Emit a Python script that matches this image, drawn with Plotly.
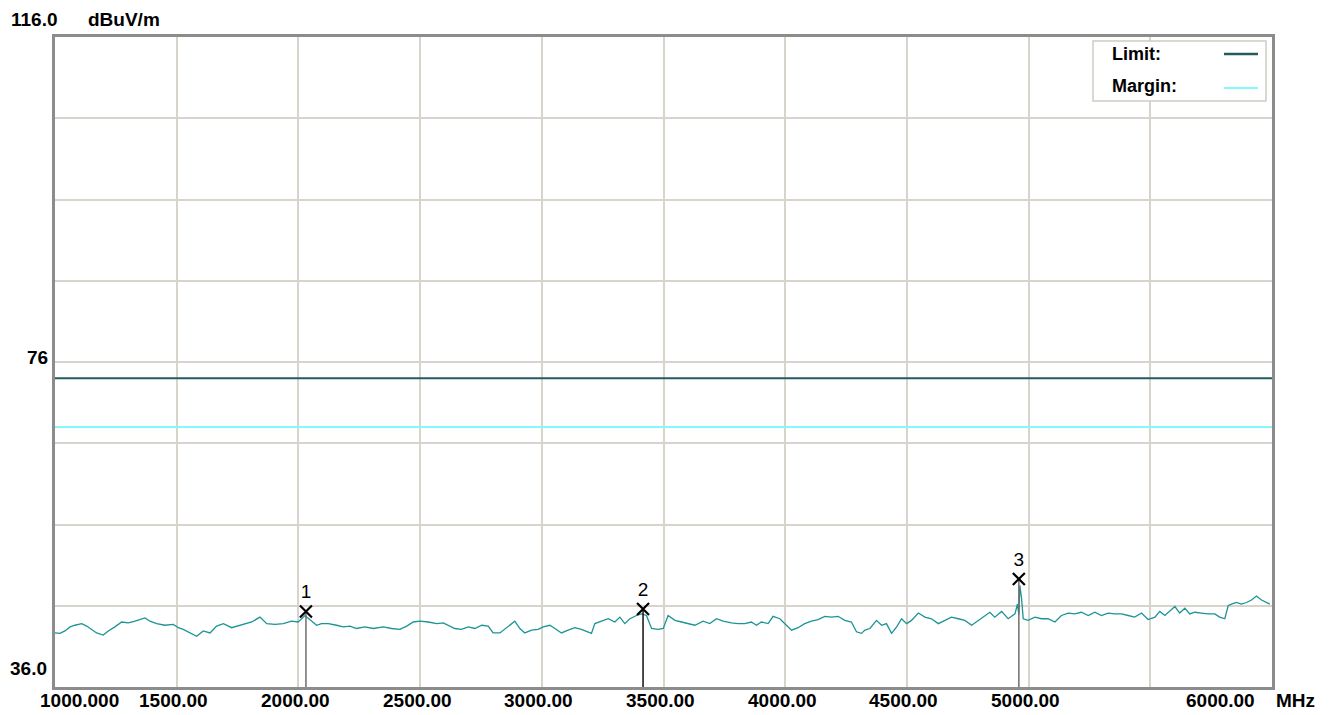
import plotly.graph_objects as go

# ---------------- data ----------------
freq_mhz = [
    1000, 1020, 1041, 1062, 1082, 1110, 1130, 1151, 1171, 1198, 1219, 1246, 1274, 1301, 1329,
    1370, 1390, 1418, 1452, 1486, 1507, 1527, 1555, 1582, 1609, 1637, 1664, 1692, 1726, 1753,
    1781, 1808, 1842, 1870, 1904, 1938, 1972, 1999, 2027, 2054, 2075, 2095, 2123, 2157, 2184,
    2212, 2239, 2273, 2308, 2349, 2383, 2417, 2445, 2472, 2499, 2534, 2568, 2595, 2623,
    2643, 2670, 2698, 2725, 2753, 2780, 2800, 2828, 2855, 2876, 2889, 2910, 2930, 2958, 2985,
    3006, 3033, 3054, 3081, 3108, 3136, 3163, 3191, 3204, 3218, 3245, 3273, 3300, 3321, 3341,
    3362, 3389, 3410, 3430, 3451, 3478, 3499, 3519, 3547, 3574, 3601, 3629, 3663, 3690, 3718,
    3745, 3779, 3807, 3834, 3861, 3882, 3902, 3930, 3950, 3978, 4005, 4026, 4053, 4080, 4108,
    4135, 4163, 4190, 4217, 4245, 4272, 4293, 4313,
    4328, 4348, 4375, 4396, 4416, 4437, 4458, 4478, 4499, 4519, 4547, 4574, 4601, 4629, 4656,
    4683, 4711, 4738, 4766, 4793, 4820, 4841, 4861, 4889, 4916, 4944, 4954, 4960, 4964, 4971,
    4978, 4998, 5026, 5053, 5080, 5108, 5135, 5163, 5190, 5217, 5245, 5272, 5299, 5327, 5354,
    5382, 5409, 5436, 5464, 5491, 5519, 5539, 5560, 5580, 5601, 5621, 5642, 5662, 5683, 5710,
    5738, 5765, 5785, 5806, 5820, 5833, 5854, 5874, 5895, 5916, 5936, 5957, 5977, 5991,
]
level_dbuv = [
    42.65, 42.6, 42.9, 43.4, 43.6, 43.8, 43.5, 43.1, 42.65, 42.4, 42.9, 43.4, 44.0, 43.9, 44.1,
    44.5, 44.1, 43.8, 43.6, 43.7, 43.3, 43.1, 42.65, 42.25, 42.9, 42.65, 43.5, 43.8, 43.3, 43.5,
    43.8, 44.0, 44.6, 43.8, 43.7, 43.8, 44.1, 44.0, 44.8, 44.1, 43.6, 43.8, 43.8, 43.6, 43.4,
    43.5, 43.2, 43.4, 43.2, 43.4, 43.2, 43.1, 43.5, 44.0, 44.1, 44.0, 43.8, 43.9, 43.5,
    43.2, 43.1, 43.4, 43.2, 43.6, 43.5, 42.65, 42.65, 43.3, 43.8, 44.1, 43.2, 42.65, 43.0, 43.1,
    43.4, 43.6, 43.2, 42.65, 43.0, 43.3, 43.1, 42.8, 42.6, 43.8, 44.1, 44.4, 44.0, 44.6, 43.8,
    44.4, 44.8, 45.0, 44.8, 43.2, 43.1, 43.2, 44.8, 44.2, 44.0, 43.8, 43.6, 44.1, 43.8, 44.4,
    44.1, 43.9, 43.8, 43.8, 44.0, 43.6, 44.0, 43.8, 44.7, 44.4, 43.6, 43.0, 43.3, 43.8, 44.1,
    44.3, 44.7, 44.6, 44.7, 44.2, 44.0, 42.8, 42.6,
    43.0, 43.2, 44.2, 43.6, 43.8, 42.6, 43.4, 44.4, 43.8, 44.2, 45.1, 44.6, 44.4, 43.8, 44.2,
    44.6, 44.4, 44.2, 43.6, 44.2, 44.8, 45.2, 44.6, 45.3, 44.4, 45.0, 46.2, 44.9, 48.5, 46.9,
    44.4, 44.2, 44.6, 44.4, 44.4, 44.0, 44.8, 45.1, 45.0, 45.2, 44.8, 45.2, 44.8, 45.1, 45.0,
    45.0, 44.8, 44.6, 45.1, 44.3, 44.6, 45.3, 44.8, 45.4, 45.9, 45.1, 45.7, 45.0, 45.2, 45.1,
    45.0, 45.0, 44.6, 44.4, 46.0, 46.2, 46.4, 46.2, 46.4, 46.7, 47.2, 46.7, 46.4, 46.2,
]

limit_dbuv = 74.0
margin_dbuv = 68.0

marker_ids = ["1", "2", "3"]
marker_freq = [2031, 3416, 4960]
marker_level = [45.3, 45.6, 49.3]
marker_line_colors = ["#6e6e6e", "#111111", "#6e6e6e"]

x_min, x_max = 1000, 6000
y_min, y_max = 36, 116
xtick_vals = [1000, 1500, 2000, 2500, 3000, 3500, 4000, 4500, 5000, 6000]
xtick_text = ["1000.000", "1500.00", "2000.00", "2500.00", "3000.00", "3500.00",
              "4000.00", "4500.00", "5000.00", "6000.00"]
ylabel_vals = [116, 76, 36]
ylabel_text = ["116.0", "76", "36.0"]

# ---------------- layout constants ----------------
W, H = 1330, 715
ML, MR, MT, MB = 55, 58, 37, 28
PW, PH = W - ML - MR, H - MT - MB
FONT = "Liberation Sans, Arial, sans-serif"
TRACE = "#1b9494"
LIMIT_C = "#245c5c"
MARGIN_C = "#80fafa"
GRID_C = "#d8d4cc"
FRAME_C = "#8c8c8c"
LABEL_SIZE = 19


def px2x(px):
    return (px - ML) / PW


def py2y(py):
    return (H - MB - py) / PH


fig = go.Figure()

# measurement trace
fig.add_trace(go.Scatter(x=freq_mhz, y=level_dbuv, mode="lines",
                         line=dict(color=TRACE, width=1.3), hoverinfo="skip"))

# limit and margin lines
fig.add_trace(go.Scatter(x=[x_min, x_max], y=[limit_dbuv, limit_dbuv], mode="lines",
                         line=dict(color=LIMIT_C, width=2)))
fig.add_trace(go.Scatter(x=[x_min, x_max], y=[margin_dbuv, margin_dbuv], mode="lines",
                         line=dict(color=MARGIN_C, width=2)))

# marker stems
for f, v, c in zip(marker_freq, marker_level, marker_line_colors):
    fig.add_trace(go.Scatter(x=[f, f], y=[y_min, v], mode="lines",
                             line=dict(color=c, width=1.5)))

# marker crosses with numbers
fig.add_trace(go.Scatter(x=marker_freq, y=marker_level, mode="markers+text",
                         text=marker_ids, textposition="top center",
                         textfont=dict(family=FONT, size=19, color="#000000"),
                         marker=dict(symbol="x-thin", size=12, color="#000000",
                                     line=dict(width=2.2, color="#000000"))))

annotations = []
# x tick labels
for v, t in zip(xtick_vals, xtick_text):
    xa, xs = "center", -3
    if v == xtick_vals[0]:
        xa, xs = "left", -17
    elif v == xtick_vals[-1]:
        xa, xs = "right", -15
    annotations.append(dict(x=v, xref="x", y=0, yref="paper", yanchor="top", yshift=-1,
                            xanchor=xa, xshift=xs, showarrow=False, text="<b>%s</b>" % t,
                            font=dict(family=FONT, size=LABEL_SIZE, color="#000000")))
annotations.append(dict(x=x_max, xref="x", y=0, yref="paper", yanchor="top", yshift=-1,
                        xanchor="left", xshift=2, showarrow=False, text="<b>MHz</b>",
                        font=dict(family=FONT, size=LABEL_SIZE, color="#000000")))

# y labels
ylab_shift = {116: (-46, "left", 18), 76: (-5, "right", 5), 36: (-6, "right", 19)}
for v, t in zip(ylabel_vals, ylabel_text):
    xs, xa, ys = ylab_shift[v]
    annotations.append(dict(x=0, xref="paper", y=v, yref="y", xanchor=xa, xshift=xs,
                            yanchor="middle", yshift=ys, showarrow=False,
                            text="<b>%s</b>" % t,
                            font=dict(family=FONT, size=LABEL_SIZE, color="#000000")))
annotations.append(dict(x=0, xref="paper", y=y_max, yref="y", xanchor="left", xshift=31,
                        yanchor="middle", yshift=18, showarrow=False, text="<b>dBuV/m</b>",
                        font=dict(family=FONT, size=LABEL_SIZE, color="#000000")))

# legend box contents
annotations.append(dict(x=px2x(1110), xref="paper", y=py2y(54), yref="paper",
                        xanchor="left", yanchor="middle", showarrow=False, text="<b>Limit:</b>",
                        font=dict(family=FONT, size=18, color="#000000")))
annotations.append(dict(x=px2x(1110), xref="paper", y=py2y(86), yref="paper",
                        xanchor="left", yanchor="middle", showarrow=False, text="<b>Margin:</b>",
                        font=dict(family=FONT, size=18, color="#000000")))

shapes = [
    dict(type="rect", xref="paper", yref="paper", x0=px2x(1093), x1=px2x(1266),
         y0=py2y(101), y1=py2y(41), line=dict(color="#d0ccc4", width=1.5),
         fillcolor="#ffffff", layer="above"),
    dict(type="line", xref="paper", yref="paper", x0=px2x(1224), x1=px2x(1258),
         y0=py2y(54), y1=py2y(54), line=dict(color=LIMIT_C, width=2.5), layer="above"),
    dict(type="line", xref="paper", yref="paper", x0=px2x(1224), x1=px2x(1258),
         y0=py2y(88), y1=py2y(88), line=dict(color=MARGIN_C, width=2), layer="above"),
]

fig.update_layout(
    width=W, height=H,
    margin=dict(l=ML, r=MR, t=MT, b=MB, pad=0),
    paper_bgcolor="#ffffff", plot_bgcolor="#ffffff",
    showlegend=False,
    annotations=annotations,
    shapes=shapes,
    xaxis=dict(range=[x_min, x_max], tickmode="linear", tick0=x_min, dtick=500,
               showgrid=True, gridcolor=GRID_C, gridwidth=1.5, showticklabels=False,
               ticks="", zeroline=False, showline=True, mirror=True,
               linecolor=FRAME_C, linewidth=3),
    yaxis=dict(range=[y_min, y_max], tickmode="linear", tick0=y_min, dtick=10,
               showgrid=True, gridcolor=GRID_C, gridwidth=1.5, showticklabels=False,
               ticks="", zeroline=False, showline=True, mirror=True,
               linecolor=FRAME_C, linewidth=3),
)

fig.write_html("out.html", config={"displayModeBar": False},
               post_script="document.body.style.margin='0';document.body.style.overflow='hidden';")
